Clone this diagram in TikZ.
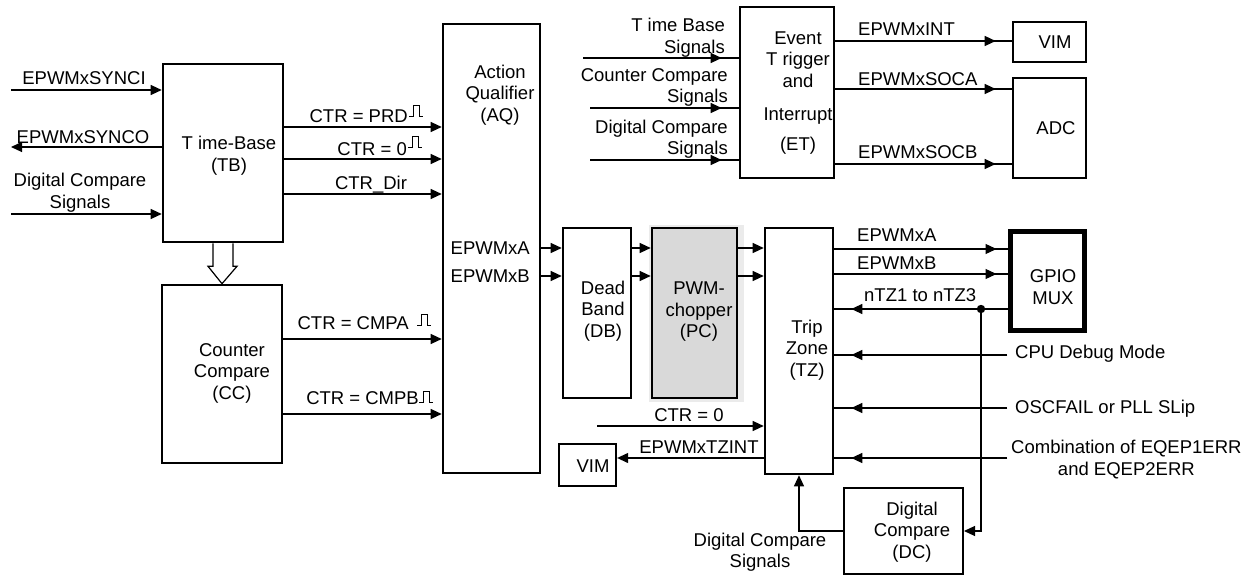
\documentclass[tikz,border=0pt]{standalone}
\usepackage{fontspec}
\setmainfont{Liberation Sans}
\usetikzlibrary{arrows.meta,calc}
\begin{document}
\begin{tikzpicture}[x=1pt,y=-1pt,
  font=\fontsize{18.5}{21.5}\selectfont,
  box/.style 2 args={draw, line width=2.6pt, inner sep=0pt, minimum width=#1, minimum height=#2},
  txt/.style={inner sep=0pt, align=center},
  sig/.style={line width=1.2pt},
  arr/.style={sig, -{Triangle[length=11pt,width=10pt]}},
  tipat/.style={sig, postaction={draw, -{Triangle[length=11pt,width=10pt]}, shorten >=#1}},
  pulse/.pic={\draw[line width=1pt] (0,0) -- (4,0) -- (4,-11) -- (10,-11) -- (10,0) -- (14,0);}
]
\useasboundingbox (0,0) rectangle (1255,577);

% ---------- boxes ----------
\node[box={120}{178}] (tb) at (223,153) {};
\node[box={120}{178}] (cc) at (222,374) {};
\node[box={97}{449}]  (aq) at (491.5,248.5) {};
\node[box={68}{170}]  (db) at (597,313) {};
\fill[black!8] (649,225) rectangle (744,402);
\node[box={85}{170}, fill=black!15] (pc) at (694.5,313) {};
\node[box={68}{246}]  (tz) at (799,351) {};
\node[box={94}{171}]  (et) at (787,92.5) {};
\node[box={73}{40}]   (vima) at (1049.5,42) {};
\node[box={73}{100}]  (adc) at (1049.5,128) {};
\node[box={74}{98}, line width=5pt] (gpio) at (1047,281) {};
\node[box={57}{42}, line width=2.3pt] (vimb) at (587.5,465) {};
\node[box={119}{86}, line width=2pt] (dc) at (903.5,531) {};

% ---------- box texts ----------
\node[txt] (tbt) at (229,155.5) {T ime-Base\\(TB)};
\node[txt] (cct) at (232,373) {Counter\\Compare\\(CC)};
\node[txt] (aqt) at (500,95) {Action\\Qualifier\\(AQ)};
\node[txt] (dbt) at (603,311) {Dead\\Band\\(DB)};
\node[txt] (pct) at (699,312) {PWM-\\chopper\\(PC)};
\node[txt] (tzt) at (807,350) {Trip\\Zone\\(TZ)};
\node[txt] (ett) at (798,93) {Event\\T rigger\\and\\[12pt]Interrupt\\[8pt](ET)};
\node[txt] (vimat) at (1055,42) {VIM};
\node[txt] (adct) at (1056,128) {ADC};
\node[txt] (gpiot) at (1053,287) {GPIO\\MUX};
\node[txt] (vimbt) at (593,466) {VIM};
\node[txt] (dct) at (912,532) {Digital\\Compare\\(DC)};

% ---------- left inputs of TB ----------
\coordinate (syncin) at (11,90);
\coordinate (syncout) at (11,147);
\coordinate (dcin) at (11,214);
\draw[arr] (syncin) -- (syncin -| tb.west);
\draw[arr] (tb.west |- syncout) -- (syncout);
\draw[arr] (dcin) -- (dcin -| tb.west);
\node[txt] (lsyncin) at (84,78) {EPWMxSYNCI};
\node[txt] (lsyncout) at (83,137) {EPWMxSYNCO};
\node[txt] (ldcin) at (80,192.5) {Digital Compare\\Signals};

% ---------- TB -> AQ ----------
\draw[arr] (tb.east |- 0,127) -- (aq.west |- 0,127);
\draw[arr] (tb.east |- 0,159) -- (aq.west |- 0,159);
\draw[arr] (tb.east |- 0,194) -- (aq.west |- 0,194);
\node[txt, anchor=east] (lprd) at (408,116) {CTR = PRD};
\node[txt, anchor=east] (lzero) at (407,149) {CTR = 0};
\node[txt] (ldir) at (371,185) {CTR\_Dir};
\pic at (409,117) {pulse};
\pic at (408,148) {pulse};

% ---------- TB -> CC hollow arrow ----------
\draw[line width=1.2pt, fill=white]
  ($(tb.south)+(-10,0)$) -- ($(tb.south)+(-10,23)$) -- ($(tb.south)+(-15,23)$)
  -- (cc.north) -- ($(tb.south)+(14,23)$) -- ($(tb.south)+(10,23)$)
  -- ($(tb.south)+(10,0)$);

% ---------- CC -> AQ ----------
\draw[arr] (cc.east |- 0,339) -- (aq.west |- 0,339);
\draw[arr] (cc.east |- 0,414) -- (aq.west |- 0,414);
\node[txt, anchor=east] (lcmpa) at (409,323) {CTR = CMPA};
\node[txt, anchor=east] (lcmpb) at (419,398) {CTR = CMPB};
\pic at (417,325) {pulse};
\pic at (419,402) {pulse};

% ---------- AQ -> DB -> PC -> TZ ----------
\node[txt, anchor=east] (laqa) at (530,248) {EPWMxA};
\node[txt, anchor=east] (laqb) at (530,276) {EPWMxB};
\foreach \yy in {248,276} {
  \draw[arr] (aq.east |- 0,\yy) -- (db.west |- 0,\yy);
  \draw[arr] (db.east |- 0,\yy) -- (pc.west |- 0,\yy);
  \draw[arr] (pc.east |- 0,\yy) -- (tz.west |- 0,\yy);
}

% ---------- ET inputs ----------
\coordinate (tbs) at (583,58);
\coordinate (ccs) at (590,108);
\coordinate (dcs) at (590,160);
\draw[tipat=17] (tbs) -- (tbs -| et.west);
\draw[tipat=17] (ccs) -- (ccs -| et.west);
\draw[tipat=17] (dcs) -- (dcs -| et.west);
\node[txt, align=right, anchor=east] (ltbs) at (725,37.5) {T ime Base\\Signals};
\node[txt, align=right, anchor=east] (lccs) at (728,87.5) {Counter Compare\\Signals};
\node[txt, align=right, anchor=east] (ldcs) at (728,139) {Digital Compare\\Signals};

% ---------- ET outputs ----------
\draw[tipat=16] (et.east |- 0,41) -- (vima.west |- 0,41);
\draw[tipat=16] (et.east |- 0,89) -- (adc.west |- 0,89);
\draw[tipat=16] (et.east |- 0,164) -- (adc.west |- 0,164);
\node[txt, anchor=west] (lint) at (858,29) {EPWMxINT};
\node[txt, anchor=west] (lsoca) at (858,79) {EPWMxSOCA};
\node[txt, anchor=west] (lsocb) at (858,152) {EPWMxSOCB};

% ---------- TZ <-> GPIO ----------
\draw[tipat=11] (tz.east |- 0,249) -- (gpio.west |- 0,249);
\draw[tipat=11] (tz.east |- 0,274) -- (gpio.west |- 0,274);
\draw[tipat=17] (gpio.west |- 0,309) -- (tz.east |- 0,309);
\node[txt, anchor=west] (ltza) at (857,235) {EPWMxA};
\node[txt, anchor=west] (ltzb) at (857,263) {EPWMxB};
\node[txt, anchor=west] (lntz) at (864,295) {nTZ1 to nTZ3};
\coordinate (dot) at (981,309);
\fill (dot) circle (4.2);
\draw[arr] (dot) |- (dc.east);

% ---------- other TZ inputs ----------
\coordinate (cpu) at (1007,355);
\coordinate (osc) at (1007,408);
\coordinate (eqep) at (1007,458);
\draw[tipat=17] (cpu) -- (cpu -| tz.east);
\draw[tipat=17] (osc) -- (osc -| tz.east);
\draw[tipat=17] (eqep) -- (eqep -| tz.east);
\node[txt, anchor=west] (lcpu) at (1015,354) {CPU Debug Mode};
\node[txt, anchor=west] (losc) at (1015,409) {OSCFAIL or PLL SLip};
\node[txt, anchor=west] (leqep) at (1011,459.5) {Combination of EQEP1ERR\\and EQEP2ERR};

% ---------- TZ bottom side ----------
\coordinate (ctrz) at (597,426);
\draw[arr] (ctrz) -- (ctrz -| tz.west);
\node[txt] (lctrz) at (689,415) {CTR = 0};
\draw[arr] (tz.west |- 0,458) -- (vimb.east |- 0,458);
\node[txt] (ltzint) at (699,447) {EPWMxTZINT};
\draw[arr] (dc.west) -| (tz.south);
\node[txt] (ldcsig) at (760,552) {Digital Compare\\Signals};
\end{tikzpicture}
\end{document}
